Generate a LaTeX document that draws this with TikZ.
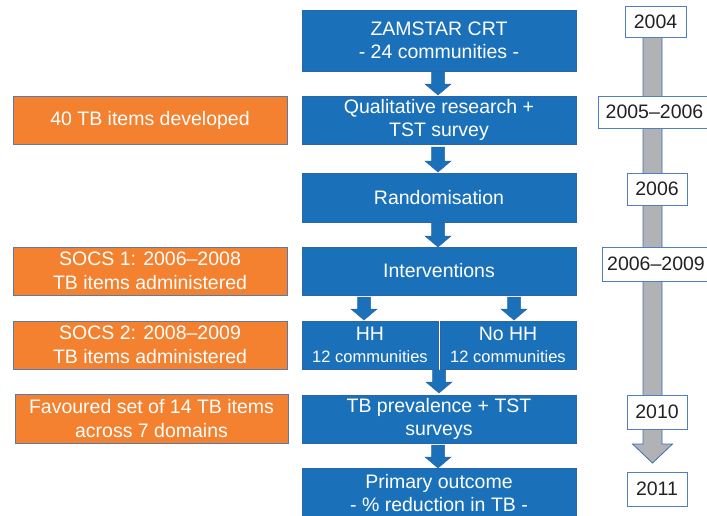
\documentclass[tikz,border=0pt]{standalone}
\usepackage{fontspec}
\setmainfont{Liberation Sans}
\usetikzlibrary{calc}
\definecolor{boxblue}{HTML}{1A71BA}
\definecolor{blueedge}{HTML}{2A66A8}
\definecolor{boxorange}{HTML}{F4812F}
\definecolor{orangeedge}{HTML}{5A7BA8}
\definecolor{bargray}{HTML}{B1B2B5}
\definecolor{baredge}{HTML}{3D6FB0}
\definecolor{yearedge}{HTML}{4F7FBF}
\definecolor{yeartext}{HTML}{222222}
\newcommand\barrow[2]{%
  \draw[blockarrowst] let \p1=#1, \p2=#2 in
    (\x1-6.5pt,\y1) -- (\x1+6.5pt,\y1) -- (\x1+6.5pt,\y2+11pt) -- (\x1+13pt,\y2+11pt)
    -- (\x1,\y2) -- (\x1-13pt,\y2+11pt) -- (\x1-6.5pt,\y2+11pt) -- cycle;}
\begin{document}
\begin{tikzpicture}[x=1pt,y=-1pt,
  every node/.style={inner sep=0pt, outer sep=0pt, align=center,
    font=\fontsize{19.5}{23.5}\selectfont},
  bluebox/.style={fill=boxblue, draw=blueedge, line width=0.6pt, text=white,
    minimum width=274pt, minimum height=48pt},
  orangebox/.style={fill=boxorange, draw=orangeedge, line width=0.7pt, text=white,
    minimum width=274pt, minimum height=48pt},
  yearbox/.style={fill=white, draw=yearedge, line width=0.9pt, text=yeartext},
  blockarrowst/.style={fill=boxblue, draw=blueedge, line width=0.5pt, line join=miter},
  timebar/.style={fill=bargray, draw=baredge, line width=0.8pt, line join=miter},
  small/.style={font=\fontsize{16.5}{19}\selectfont}]
\useasboundingbox (0,0) rectangle (707,515);

% main flow
\node[bluebox, minimum height=61pt] (zam) at (439,40.5) {ZAMSTAR CRT\\- 24 communities -};
\node[bluebox] (qual) at (439,120) {Qualitative research +\\TST survey};
\node[bluebox, minimum height=49pt] (rand) at (439,197.5) {Randomisation};
\node[bluebox] (int) at (439,271) {Interventions};
\node[bluebox, minimum width=136pt] (hh) at (370,345) {HH\\[-1pt]{\fontsize{16.5}{19}\selectfont 12 communities}};
\node[bluebox, minimum width=136pt] (nohh) at (508,345) {No HH\\[-1pt]{\fontsize{16.5}{19}\selectfont 12 communities}};
\node[bluebox] (prev) at (439,419) {TB prevalence + TST\\surveys};
\node[bluebox, minimum height=50pt] (prim) at (439,493) {Primary outcome\\- \% reduction in TB -};

% block arrows
\barrow{([xshift=-1pt,yshift=-1pt]zam.south)}{([yshift=1pt]qual.north)}
\barrow{([xshift=-1pt,yshift=-3pt]qual.south)}{([yshift=1pt]rand.north)}
\barrow{([xshift=-1pt,yshift=-1pt]rand.south)}{([yshift=0pt]int.north)}
\barrow{([xshift=-6pt,yshift=-2pt]hh.north |- int.south)}{([yshift=1pt]hh.north)}
\barrow{([xshift=6pt,yshift=-2pt]nohh.north |- int.south)}{([yshift=1pt]nohh.north)}
\barrow{([xshift=1pt,yshift=-1pt]hh.south east)}{([yshift=2pt]prev.north)}
\barrow{([xshift=-1pt,yshift=-2pt]prev.south)}{([yshift=0pt]prim.north)}

% orange boxes
\node[orangebox] (o1) at (150,120) {40 TB items developed};
\node[orangebox] (o2) at (150,271) {SOCS 1: 2006–2008\\TB items administered};
\node[orangebox] (o3) at (150,345) {SOCS 2: 2008–2009\\TB items administered};
\node[orangebox, minimum width=273pt, minimum height=49pt] (o4) at (151.5,418.5) {Favoured set of 14 TB items\\across 7 domains};

% timeline
\coordinate (tltop) at (652.5,37);
\coordinate (tltip) at (652.5,463);
\draw[timebar] ($(tltop)+(-9.5pt,0)$) -- ($(tltop)+(9.5pt,0)$) -- ($(tltip)+(9.5pt,19pt)$)
  -- ($(tltip)+(20pt,19pt)$) -- (tltip) -- ($(tltip)+(-20pt,19pt)$)
  -- ($(tltip)+(-9.5pt,19pt)$) -- cycle;

\node[yearbox, minimum width=61pt, minimum height=31pt] (y2004) at (655.5,21.5) {2004};
\node[yearbox, minimum width=113pt, minimum height=32pt] (y0506) at (654.5,112) {2005–2006};
\node[yearbox, minimum width=60pt, minimum height=32pt] (y2006) at (657,189) {2006};
\node[yearbox, minimum width=108pt, minimum height=34pt] (y0609) at (656,264) {2006–2009};
\node[yearbox, minimum width=60pt, minimum height=34pt] (y2010) at (657,412) {2010};
\node[yearbox, minimum width=60pt, minimum height=34pt] (y2011) at (657,489) {2011};
\end{tikzpicture}
\end{document}
